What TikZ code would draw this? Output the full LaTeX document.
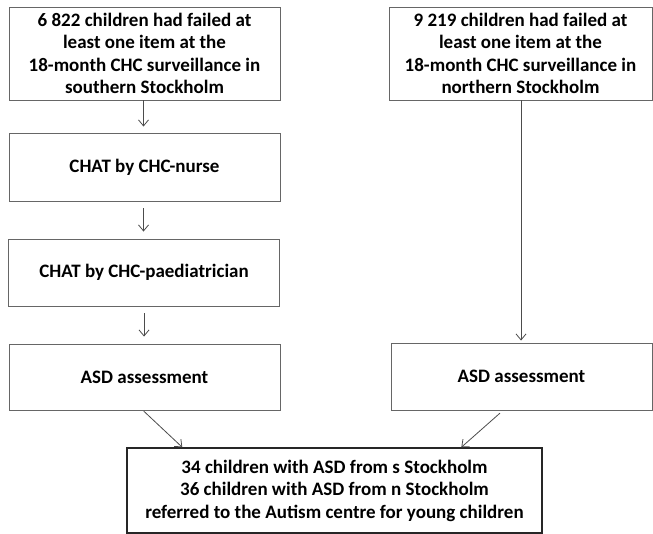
\documentclass[tikz,border=0pt]{standalone}
\usepackage{fontspec}
\setmainfont{Carlito}
\usepackage{tikz}
\usetikzlibrary{arrows.meta}

\begin{document}
\begin{tikzpicture}[x=1pt, y=-1pt, >={Straight Barb[length=6pt,width=10pt]},
    box/.style={draw=black!60, line width=0.9pt, align=center, inner sep=0pt,
      font=\bfseries\fontsize{19}{22.5}\selectfont},
    flow/.style={->, draw=black!70, line width=0.8pt}]
    \useasboundingbox (0,0) rectangle (653,534);
    % left branch
    \node[box, minimum width=271, minimum height=93] (s1) at (144.5,53.5)
      {6 822 children had failed at\\least one item at the\\18-month CHC surveillance in\\southern Stockholm};
    \node[box, minimum width=271, minimum height=68] (s2) at (144.5,167) {CHAT by CHC-nurse};
    \node[box, minimum width=271, minimum height=67] (s3) at (144,272.5) {CHAT by CHC-paediatrician};
    \node[box, minimum width=271, minimum height=66] (s4) at (144.5,377) {ASD assessment};
    % right branch
    \node[box, minimum width=263, minimum height=93] (n1) at (520.5,53.5)
      {9 219 children had failed at\\least one item at the\\18-month CHC surveillance in\\northern Stockholm};
    \node[box, minimum width=261, minimum height=67] (n4) at (521.5,376.5) {ASD assessment};
    % result
    \node[box, draw=black!85, line width=1.4pt, minimum width=415, minimum height=85] (res) at (334.5,490.5)
      {34 children with ASD from s Stockholm\\36 children with ASD from n Stockholm\\referred to the Autism centre for young children};
    \draw[flow, shorten <=0pt, shorten >=6pt] ([xshift=-1]s1.south) -- ([xshift=-1]s2.north);
    \draw[flow, shorten <=7pt, shorten >=7pt] ([xshift=-1]s2.south) -- ([xshift=-0.5]s3.north);
    \draw[flow, shorten <=7pt, shorten >=7pt] (s3.south) -- ([xshift=-0.5]s4.north);
    \draw[flow, shorten >=2pt] ([xshift=0.5]n1.south) -- ([xshift=-0.5]n4.north);
    \draw[flow, shorten <=1pt] ([xshift=-1.5]s4.south) -- ([xshift=56]res.north west);
    \draw[flow, shorten <=4pt] ([xshift=-18.5]n4.south) -- ([xshift=335]res.north west);
\end{tikzpicture}
\end{document}
